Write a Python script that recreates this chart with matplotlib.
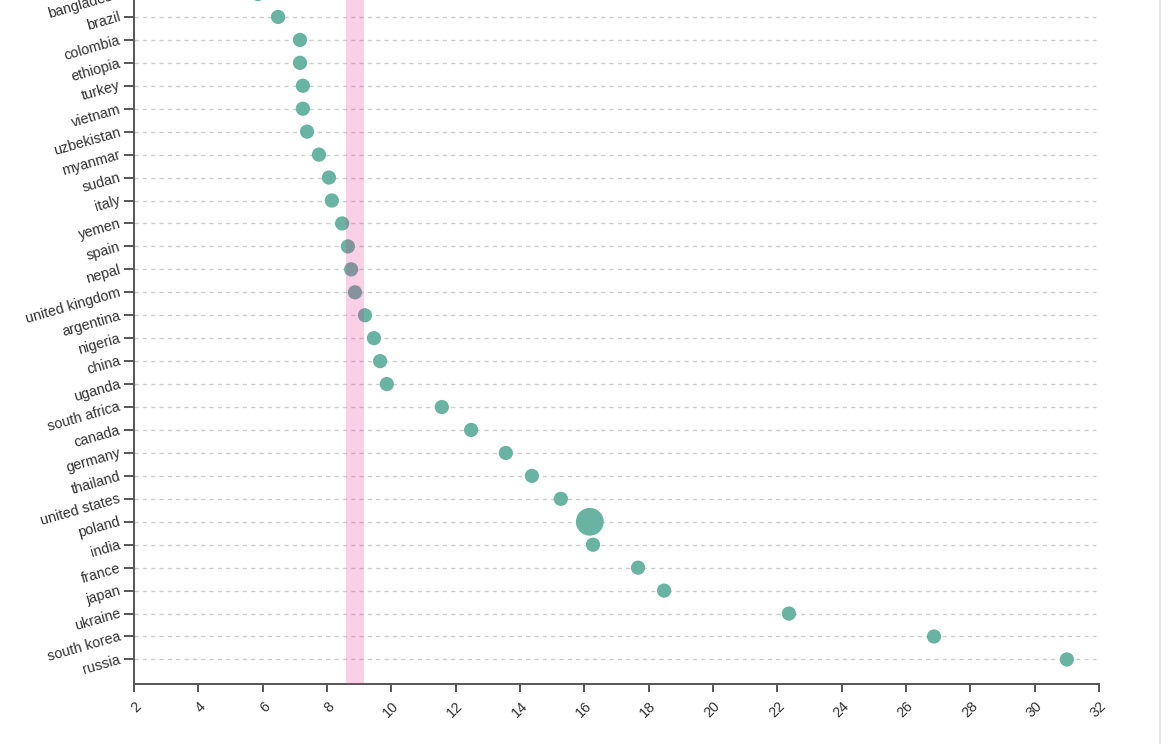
import matplotlib
matplotlib.use("Agg")
import matplotlib.pyplot as plt
from matplotlib.lines import Line2D

plt.rcParams['font.family'] = ['Liberation Sans', 'DejaVu Sans']

countries = ["bangladesh", "brazil", "colombia", "ethiopia", "turkey", "vietnam",
             "uzbekistan", "myanmar", "sudan", "italy", "yemen", "spain", "nepal",
             "united kingdom", "argentina", "nigeria", "china", "uganda",
             "south africa", "canada", "germany", "thailand", "united states",
             "poland", "india", "france", "japan", "ukraine", "south korea", "russia"]
values = [5.85, 6.48, 7.16, 7.16, 7.25, 7.25, 7.38, 7.75, 8.06, 8.15, 8.47, 8.65,
          8.75, 8.87, 9.18, 9.46, 9.65, 9.86, 11.57, 12.48, 13.56, 14.37, 15.27,
          16.17, 16.27, 17.67, 18.48, 22.36, 26.87, 31.0]
highlight = "poland"
band = (8.6, 9.15)
xticks = list(range(2, 33, 2))

W, H = 1170, 744
fig = plt.figure(figsize=(W / 100, H / 100), dpi=100)
# axes placed in pixels; top runs past the figure edge like the cropped original
left, right, bottom, top = 134, 1099, 60, 756.9
ax = fig.add_axes([left / W, bottom / H, (right - left) / W, (top - bottom) / H])

ypos = list(range(len(countries)))
sizes = [400 if c == highlight else 105 for c in countries]

for y in ypos:
    ax.plot([2, 31.9], [y, y], color="#cccccc", lw=1, ls=(0, (3, 3)), zorder=0)

ax.scatter(values, ypos, s=sizes, color="#69b3a2", edgecolors="none", zorder=2)
ax.axvspan(band[0], band[1], color="#e7298a", alpha=0.22, lw=0, zorder=3)

ax.set_xlim(2, 32)
ax.set_ylim(len(countries) - 1 + 1.07, -0.3)
ax.set_xticks(xticks)
ax.set_xticklabels([str(t) for t in xticks], rotation=45, ha="right",
                   va="top", rotation_mode="anchor")
ax.set_yticks(ypos)
ax.set_yticklabels(countries, rotation=16, ha="right", va="center",
                   rotation_mode="anchor")

for s in ["top", "right"]:
    ax.spines[s].set_visible(False)
for s in ["left", "bottom"]:
    ax.spines[s].set_color("#555555")
    ax.spines[s].set_linewidth(1.4)

ax.tick_params(axis="both", colors="#555555", width=1.4, labelcolor="#333333",
               labelsize=10.4)
ax.tick_params(axis="y", length=7, pad=3)
ax.tick_params(axis="x", length=6, pad=5)

fig.add_artist(Line2D([1159.5 / W, 1159.5 / W], [0, 1], color="#e6e6e6", lw=1.5,
                      transform=fig.transFigure))

fig.savefig("out.png", dpi=100)
